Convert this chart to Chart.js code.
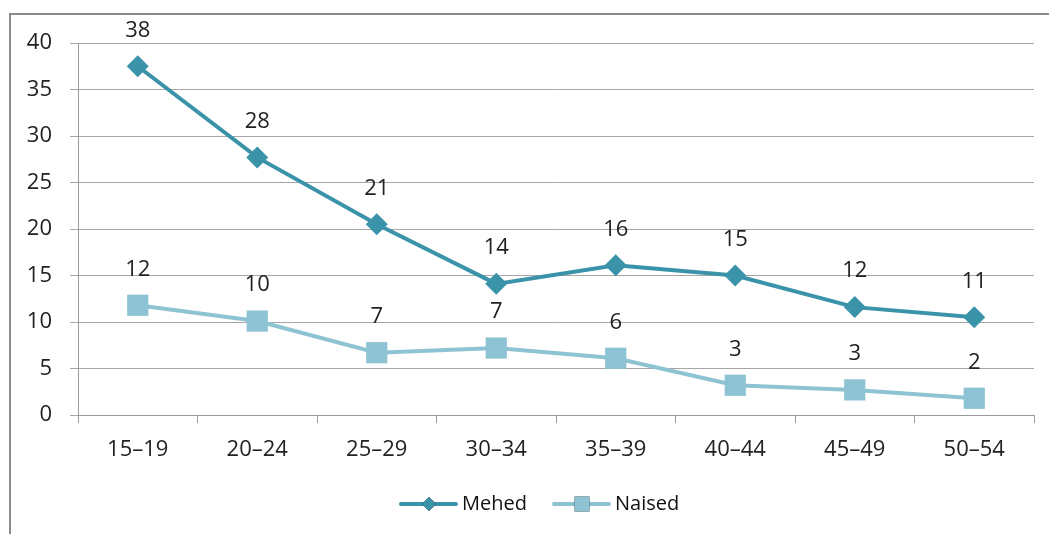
<!DOCTYPE html>
<html>
<head>
<meta charset="utf-8">
<script src="https://cdn.jsdelivr.net/npm/chart.js"></script>
<style>
  html, body { margin: 0; padding: 0; background: #fff; }
  #wrap { width: 1049px; height: 534px; position: relative; }
</style>
</head>
<body>
<div id="wrap"><canvas id="chart" width="1049" height="534"></canvas></div>
<script>
// age groups and values
const ageGroups = ['15–19', '20–24', '25–29', '30–34', '35–39', '40–44', '45–49', '50–54'];
const mehed = [37.5, 27.7, 20.5, 14.1, 16.1, 15.0, 11.6, 10.5];
const naised = [11.8, 10.1, 6.7, 7.2, 6.1, 3.2, 2.7, 1.8];
const yTicks = [0, 5, 10, 15, 20, 25, 30, 35, 40];

const menColor = '#3b93aa';
const womenColor = '#8ec3d4';
const fontFamily = "'Open Sans', 'Noto Sans', sans-serif";

Chart.defaults.font.family = fontFamily;
Chart.defaults.color = '#222';

// frame round the chart (only left and top edge are in the picture)
const framePlugin = {
    id: 'frame',
    afterDraw(chart) {
        const ctx = chart.ctx;
        ctx.save();
        ctx.strokeStyle = '#8c8c8c';
        ctx.lineWidth = 2;
        ctx.beginPath();
        ctx.moveTo(10, 534);
        ctx.lineTo(10, 14);
        ctx.lineTo(1049, 14);
        ctx.stroke();
        ctx.restore();
    }
};

// value labels above each point
const valueLabels = {
    id: 'valueLabels',
    afterDatasetsDraw(chart) {
        const ctx = chart.ctx;
        ctx.save();
        ctx.font = '22px ' + fontFamily;
        ctx.fillStyle = '#222';
        ctx.textAlign = 'center';
        ctx.textBaseline = 'middle';
        chart.data.datasets.forEach(function (ds, i) {
            const meta = chart.getDatasetMeta(i);
            meta.data.forEach(function (pt, j) {
                ctx.fillText(Math.round(ds.data[j]), pt.x, pt.y - 36);
            });
        });
        ctx.restore();
    }
};

// legend drawn as line + marker, like the original
const lineLegend = {
    id: 'lineLegend',
    afterDraw(chart) {
        const ctx = chart.ctx;
        const y = 504;
        let x = 401;
        ctx.save();
        ctx.font = '20px ' + fontFamily;
        ctx.textBaseline = 'middle';
        chart.data.datasets.forEach(function (ds) {
            ctx.strokeStyle = ds.borderColor;
            ctx.lineWidth = 4;
            ctx.lineCap = 'round';
            ctx.beginPath();
            ctx.moveTo(x, y);
            ctx.lineTo(x + 55, y);
            ctx.stroke();
            Chart.helpers.drawPoint(ctx, {
                pointStyle: ds.pointStyle,
                radius: ds.pointStyle === 'rect' ? 10.5 : 7,
                rotation: 0,
                borderWidth: 0
            }, x + 28, y);
            ctx.fillStyle = ds.borderColor;
            ctx.fill();
            ctx.fillStyle = '#111';
            ctx.fillText(ds.label, x + 61, y);
            x += 153;
        });
        ctx.restore();
    }
};

new Chart(document.getElementById('chart'), {
    type: 'line',
    data: {
        labels: ageGroups,
        datasets: [
            {
                label: 'Mehed',
                data: mehed,
                borderColor: menColor,
                backgroundColor: menColor,
                borderWidth: 4,
                pointStyle: 'rectRot',
                pointRadius: 11,
                pointBorderWidth: 0,
                tension: 0
            },
            {
                label: 'Naised',
                data: naised,
                borderColor: womenColor,
                backgroundColor: womenColor,
                borderWidth: 4,
                pointStyle: 'rect',
                pointRadius: 15,
                pointBorderWidth: 0,
                tension: 0
            }
        ]
    },
    options: {
        responsive: false,
        animation: false,
        layout: {
            padding: { left: 0, top: 43, right: 14, bottom: 0 }
        },
        scales: {
            y: {
                min: 0,
                max: 40,
                afterBuildTicks(scale) {
                    scale.ticks = yTicks.map(v => ({ value: v }));
                },
                afterFit(scale) {
                    scale.width = 78;
                },
                border: { display: true, color: '#9a9a9a', width: 1 },
                grid: { color: '#a6a6a6', lineWidth: 1, tickLength: 8 },
                ticks: { font: { size: 22 }, color: '#222', padding: 18 }
            },
            x: {
                offset: true,
                afterFit(scale) {
                    scale.height = 119;
                },
                border: { display: true, color: '#9a9a9a', width: 1 },
                grid: {
                    offset: true,
                    drawOnChartArea: false,
                    drawTicks: true,
                    tickLength: 8,
                    color: '#9a9a9a'
                },
                ticks: { font: { size: 22 }, color: '#222', padding: 14, maxRotation: 0 }
            }
        },
        plugins: {
            legend: { display: false },
            tooltip: { enabled: false }
        }
    },
    plugins: [framePlugin, valueLabels, lineLegend]
});
</script>
</body>
</html>
